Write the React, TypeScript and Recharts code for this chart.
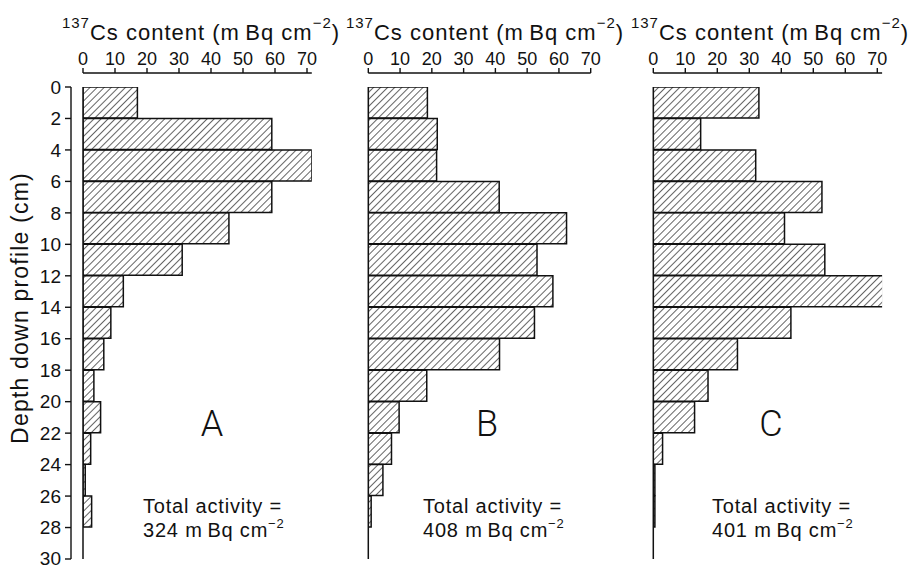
import { BarChart, Bar, XAxis, YAxis, ReferenceLine } from 'recharts'

// upper edge of each 2 cm slice (cm)
const sliceTops = [0, 2, 4, 6, 8, 10, 12, 14, 16, 18, 20, 22, 24, 26, 28]
const depthTicks = [0, 2, 4, 6, 8, 10, 12, 14, 16, 18, 20, 22, 24, 26, 28, 30]
const contentTicks = [0, 10, 20, 30, 40, 50, 60, 70]

// 137Cs content per 2 cm slice, mBq cm-2
const profileA = [17, 59, 71.5, 59, 45.6, 31, 12.6, 8.7, 6.5, 3.4, 5.5, 2.4, 0.7, 2.7, 0]
const profileB = [18.6, 21.7, 21.5, 41.2, 62.4, 53.1, 58.1, 52.3, 41.3, 18.4, 9.7, 7.3, 4.6, 0.9, 0]
const profileC = [33, 14.8, 32, 52.7, 41, 53.6, 71.9, 43, 26.3, 17.1, 12.9, 2.9, 0.5, 0.5, 0]

const totals = ['324', '408', '401']
const letters = ['A', 'B', 'C']

const FONT = '"Liberation Sans", Arial, Helvetica, sans-serif'
const INK = '#111'

interface PanelProps {
  id: string
  values: number[]
  letter: string
  total: string
  left: number
  width: number
  plotLeft: number
  plotWidth: number
  domainMax: number
  showDepth?: boolean
  titleX: number
  letterX: number
  noteX: number
}

function Panel({ id, values, letter, total, left, width, plotLeft, plotWidth, domainMax, showDepth, titleX, letterX, noteX }: PanelProps) {
  const data = sliceTops.map((top, i) => ({ mid: top + 1, value: values[i] }))
  const marginLeft = showDepth ? 0 : plotLeft - left
  const marginRight = width - (plotLeft - left) - plotWidth
  const hatch = `hatch-${id}`

  return (
    <div style={{ position: 'absolute', left, top: 0 }}>
      <BarChart
        width={width}
        height={569}
        data={data}
        layout="vertical"
        barCategoryGap={0}
        barGap={0}
        margin={{ top: 0, right: marginRight, bottom: 10, left: marginLeft }}
      >
        <defs>
          <pattern id={hatch} patternUnits="userSpaceOnUse" width={5} height={5} patternTransform="rotate(45)">
            <line x1={0} y1={0} x2={0} y2={5} stroke={INK} strokeWidth={1.3} />
          </pattern>
        </defs>
        <XAxis
          xAxisId="gap"
          orientation="top"
          type="number"
          domain={[0, 1]}
          height={14}
          tick={false}
          tickLine={false}
          axisLine={false}
        />
        <XAxis
          xAxisId="val"
          orientation="top"
          type="number"
          domain={[0, domainMax]}
          ticks={contentTicks}
          allowDataOverflow
          height={73}
          tickSize={5}
          tickMargin={3}
          stroke={INK}
          strokeWidth={1.4}
          tick={{ fill: INK, fontSize: 18 }}
        />
        {showDepth && (
          <YAxis yAxisId="aGap" type="number" domain={[0, 1]} width={12} tick={false} tickLine={false} axisLine={false} />
        )}
        <YAxis
          yAxisId="depth"
          type="number"
          dataKey="mid"
          domain={[0, 30]}
          ticks={depthTicks}
          allowDataOverflow
          hide={!showDepth}
          width={71}
          tickSize={6}
          tickMargin={4}
          stroke={INK}
          strokeWidth={1.4}
          tick={{ fill: INK, fontSize: 19 }}
        />
        <Bar
          dataKey="value"
          xAxisId="val"
          yAxisId="depth"
          fill={`url(#${hatch})`}
          stroke={INK}
          strokeWidth={1.5}
          isAnimationActive={false}
        />
        <ReferenceLine x={0} xAxisId="val" yAxisId="depth" stroke={INK} strokeWidth={1.5} />

        <text x={titleX - left} y={40} textAnchor="middle" fill={INK} fontSize={22} letterSpacing={1} fontFamily={FONT}>
          <tspan fontSize={15} dy={-12}>137</tspan>
          <tspan dy={12}>Cs content (m{'\u2009'}Bq cm</tspan>
          <tspan fontSize={15} dy={-12}>−2</tspan>
          <tspan dy={12}>)</tspan>
        </text>
        {showDepth && (
          <text
            x={20}
            y={308}
            transform="rotate(-90 20 308)"
            textAnchor="middle"
            dominantBaseline="central"
            fill={INK}
            fontSize={23}
            letterSpacing={1.2}
            fontFamily={FONT}
          >
            Depth down profile (cm)
          </text>
        )}
        <text x={letterX - left} y={436} textAnchor="middle" fill={INK} fontSize={36} fontWeight={300} fontFamily="Roboto, sans-serif">
          {letter}
        </text>
        <text x={noteX - left} y={513} fill={INK} fontSize={20} letterSpacing={0.8} fontFamily={FONT}>
          Total activity =
        </text>
        <text x={noteX - left} y={537} fill={INK} fontSize={20} letterSpacing={0.8} fontFamily={FONT}>
          <tspan>{total} m{'\u2009'}Bq cm</tspan>
          <tspan fontSize={13} dy={-9}>−2</tspan>
        </text>
      </BarChart>
    </div>
  )
}

export default function App() {
  return (
    <div style={{ position: 'absolute', left: 0, top: 0, width: 913, height: 569, background: '#fff', fontFamily: FONT }}>
      <Panel id="a" values={profileA} letter={letters[0]} total={totals[0]} left={0} width={345} plotLeft={83} plotWidth={228.8} domainMax={71.5} showDepth titleX={201} letterX={212} noteX={143} />
      <Panel id="b" values={profileB} letter={letters[1]} total={totals[1]} left={340} width={290} plotLeft={368.3} plotWidth={222.4} domainMax={70} titleX={485} letterX={487} noteX={423} />
      <Panel id="c" values={profileC} letter={letters[2]} total={totals[2]} left={625} width={288} plotLeft={653.3} plotWidth={228.8} domainMax={71.5} titleX={770} letterX={771} noteX={712} />
    </div>
  )
}
